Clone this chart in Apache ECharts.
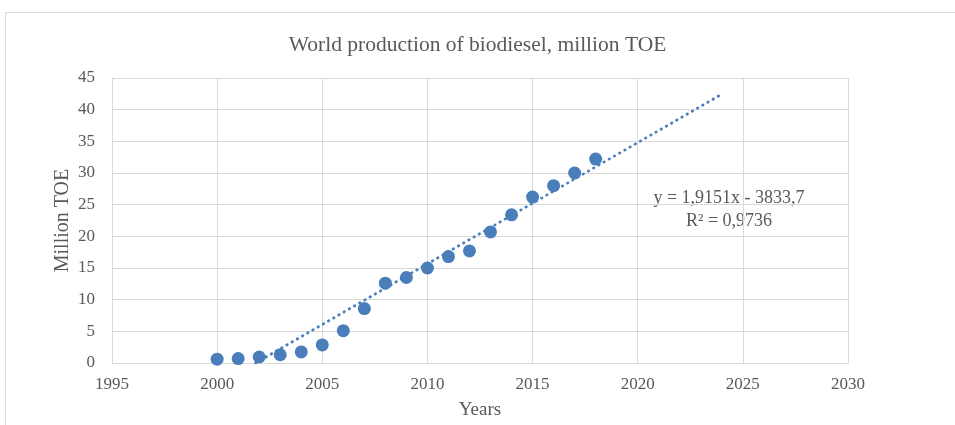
<!DOCTYPE html>
<html><head><meta charset="utf-8">
<script src="https://cdn.jsdelivr.net/npm/echarts@6/dist/echarts.min.js"></script>
<style>html,body{margin:0;padding:0;background:#fff}#c{width:955px;height:425px}</style>
</head><body><div id="c"></div>
<script>
const years = [2000,2001,2002,2003,2004,2005,2006,2007,2008,2009,2010,2011,2012,2013,2014,2015,2016,2017,2018];
const production = [0.6,0.7,0.95,1.3,1.75,2.85,5.1,8.6,12.6,13.5,15.0,16.8,17.7,20.7,23.4,26.2,28.0,30.0,32.2];
const trendX = [2001.83, 2024];
const trendY = [0, 42.46];
const xTicks = [1995, 2030, 5];
const yTicks = [0, 45, 5];
const titleText = 'World production of biodiesel, million TOE';
const eqLines = ['y = 1,9151x - 3833,7', 'R² = 0,9736'];

const font = '"Liberation Serif","Times New Roman",serif';
const grey = '#595959';
const blue = '#4A7EBB';
const chart = echarts.init(document.getElementById('c'));
chart.setOption({
  animation: false,
  title: {text: titleText, left: 'center', top: 29, textStyle: {fontFamily: font, fontSize: 21.5, fontWeight: 'normal', color: grey}},
  grid: {left: 112, right: 107, top: 78, bottom: 62},
  xAxis: {type: 'value', min: xTicks[0], max: xTicks[1], interval: xTicks[2],
    name: 'Years', nameLocation: 'middle', nameGap: 38, nameMoveOverlap: false,
    nameTextStyle: {fontFamily: font, fontSize: 19, color: grey},
    axisLine: {lineStyle: {color: '#D9D9D9'}}, axisTick: {show: false},
    axisLabel: {fontFamily: font, fontSize: 17, color: grey, margin: 13, formatter: v => String(v)},
    splitLine: {show: true, lineStyle: {color: '#D9D9D9'}}},
  yAxis: {type: 'value', min: yTicks[0], max: yTicks[1], interval: yTicks[2],
    name: 'Million TOE', nameLocation: 'middle', nameGap: 39, nameMoveOverlap: false,
    nameTextStyle: {fontFamily: font, fontSize: 20, color: grey},
    axisLine: {show: false}, axisTick: {show: false},
    axisLabel: {fontFamily: font, fontSize: 17, color: grey, margin: 17},
    splitLine: {show: true, lineStyle: {color: '#D9D9D9'}}},
  series: [
    {type: 'line', data: trendX.map((x, i) => [x, trendY[i]]), symbol: 'none',
     lineStyle: {color: blue, width: 2.8, type: [0.5, 5.5], cap: 'round'}, z: 2},
    {type: 'scatter', data: years.map((y, i) => [y, production[i]]), symbolSize: 13,
     itemStyle: {color: blue, opacity: 1}, z: 3}
  ],
  graphic: [
    {type: 'rect', shape: {x: 5.5, y: 12.5, width: 960, height: 430}, style: {fill: 'none', stroke: '#D9D9D9', lineWidth: 1}, silent: true},
    {type: 'text', x: 729, y: 198, style: {text: eqLines[0], fontFamily: font, fontSize: 18, fill: grey, align: 'center', verticalAlign: 'middle'}},
    {type: 'text', x: 729, y: 221, style: {text: eqLines[1], fontFamily: font, fontSize: 18, fill: grey, align: 'center', verticalAlign: 'middle'}}
  ]
});
</script></body></html>
